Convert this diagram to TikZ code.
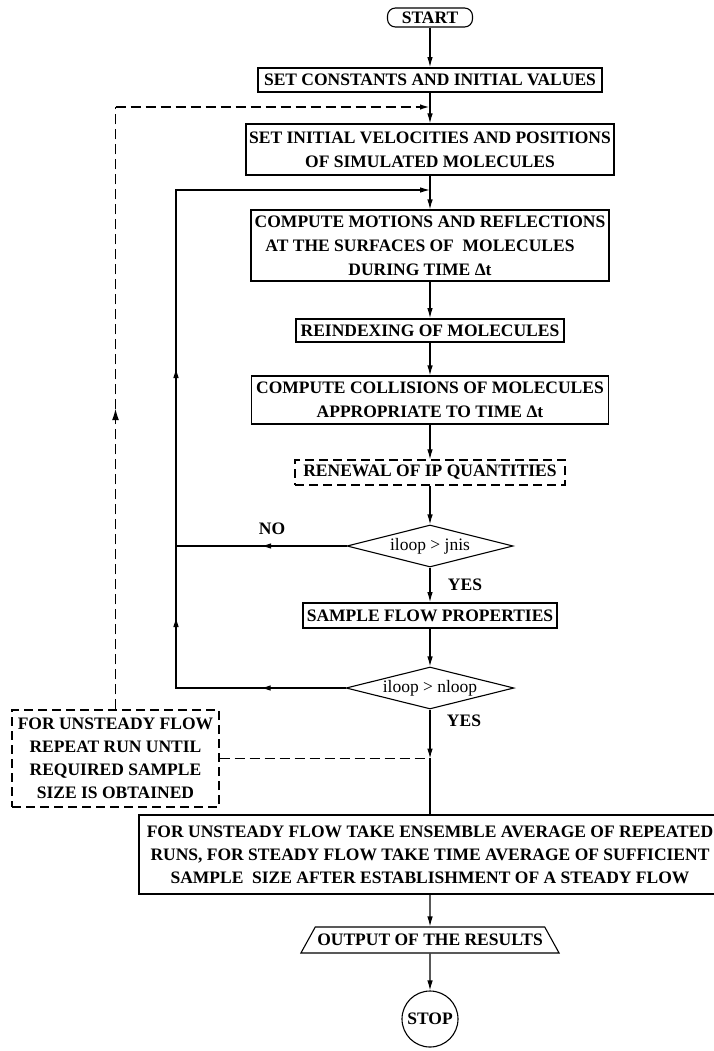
\documentclass[tikz,border=0pt]{standalone}
\usepackage{fontspec}
\setmainfont{Liberation Serif}
\usetikzlibrary{arrows.meta,shapes.geometric,decorations.markings}
\begin{document}
\begin{tikzpicture}[x=1pt,y=-1pt,
  every node/.style={font=\fontsize{17.5}{24}\selectfont\bfseries, inner sep=0pt, align=center},
  conn/.style={line width=1.1pt, -{Latex[length=10pt,width=5.5pt]}},
  plain/.style={line width=1.1pt, line cap=rect},
  procbox/.style={draw, line width=1.1pt, rectangle},
  dblbox/.style={draw, line width=1.7pt, rectangle},
  dashbox/.style={draw, line width=1.3pt, dash pattern=on 9pt off 5pt, rectangle},
  dashline/.style={line width=1.8pt, dash pattern=on 10pt off 5pt},
  decis/.style={diamond, draw, line width=1.1pt, aspect=4, inner sep=1pt, font=\fontsize{17.5}{24}\selectfont},
  midarrow/.style={postaction={decorate}, decoration={markings, mark=at position #1 with {\pgfsetdash{}{0pt}\arrow{Latex[length=10pt,width=5.5pt]}}}},
  bigmidarrow/.style={postaction={decorate}, decoration={markings, mark=at position #1 with {\pgfsetdash{}{0pt}\arrow{Latex[length=12pt,width=7pt]}}}}
]
\useasboundingbox (0,0) rectangle (714,1051);

% nodes
\node[draw, line width=1.1pt, rounded corners=8pt, minimum width=85pt, minimum height=19pt] (start) at (430,17.5) {START};
\node[dblbox, minimum width=344pt, minimum height=24pt] (setc) at (430,80) {SET CONSTANTS AND INITIAL VALUES};
\node[procbox, minimum width=368pt, minimum height=51pt] (setv) at (430,149.5) {SET INITIAL VELOCITIES AND POSITIONS\\OF SIMULATED MOLECULES};
\node[procbox, minimum width=358pt, minimum height=71pt] (motion) at (430,245.5) {COMPUTE MOTIONS AND REFLECTIONS\\AT THE SURFACES OF\ \ MOLECULES\kern20pt\\DURING TIME Δt\kern20pt};
\node[dblbox, minimum width=268pt, minimum height=23pt] (reidx) at (430,330.5) {REINDEXING OF MOLECULES};
\node[procbox, minimum width=357pt, minimum height=48pt] (coll) at (430,400) {COMPUTE COLLISIONS OF MOLECULES\\APPROPRIATE TO TIME Δt};
\node[dashbox, minimum width=270pt, minimum height=25pt] (renew) at (430,472.5) {RENEWAL OF IP QUANTITIES};
\node[decis, minimum width=166pt, minimum height=42pt] (d1) at (430,546) {iloop > jnis};
\node[dblbox, minimum width=254pt, minimum height=25pt] (sample) at (430,615.5) {SAMPLE FLOW PROPERTIES};
\node[decis, minimum width=163pt, minimum height=41pt] (d2) at (430,688) {iloop > nloop};
\node[dashbox, minimum width=207pt, minimum height=97pt, font=\fontsize{17.5}{23}\selectfont\bfseries] (note) at (115.5,758.5) {FOR UNSTEADY FLOW\\REPEAT RUN UNTIL\\REQUIRED SAMPLE\\SIZE IS OBTAINED};
\node[procbox, minimum width=582pt, minimum height=79pt, font=\fontsize{17.5}{23}\selectfont\bfseries] (big) at (430,854.5) {FOR UNSTEADY FLOW TAKE ENSEMBLE AVERAGE OF REPEATED\\RUNS, FOR STEADY FLOW TAKE TIME AVERAGE OF SUFFICIENT\\SAMPLE\ \ SIZE AFTER ESTABLISHMENT OF A STEADY FLOW};
\node[trapezium, draw, line width=1.1pt, trapezium left angle=54, trapezium right angle=54, trapezium stretches=true, minimum height=26pt, inner xsep=2pt, inner ysep=4pt] (out) at (430,940) {OUTPUT OF THE RESULTS};
\node[circle, draw, line width=1.1pt, minimum size=56pt] (stop) at (430,1019) {STOP};

% labels
\node (no) at (272,529) {NO};
\node (yes1) at (465,585) {YES};
\node (yes2) at (464,721) {YES};

% corner coordinates
\coordinate (Lt) at (176,190);
\coordinate (Lm) at (176,546);
\coordinate (Lb) at (176,688);
\coordinate (Jt) at (430,190);
\coordinate (Dt) at (115.5,107);
\coordinate (Dj) at (430,107);
\coordinate (Jb) at (430,758.5);

% main flow
\draw[conn] (start) -- (setc);
\draw[conn] (setc) -- (setv);
\draw[conn] (setv) -- (motion);
\draw[conn] (motion) -- (reidx);
\draw[conn] (reidx) -- (coll);
\draw[conn] (coll) -- (renew);
\draw[conn] (renew) -- (d1);
\draw[conn] (d1) -- (sample);
\draw[conn] (sample) -- (d2);
\draw[conn] (d2) -- (Jb);
\draw[plain] (Jb) -- (big);
\draw[conn] (big) -- (out);
\draw[conn] (out) -- (stop);

% loops
\draw[plain, midarrow=0.5] (d1.west) -- (Lm);
\draw[plain, midarrow=0.5] (Lm) -- (Lt);
\draw[conn, line cap=rect] (Lt) -- (Jt);
\draw[plain, midarrow=0.5] (d2.west) -- (Lb);
\draw[plain, midarrow=0.5] (Lb) -- (Lm);

% dashed repeat path
\draw[dashline, bigmidarrow=0.5] (note.north) -- (Dt);
\draw[dashline, -{Latex[length=10pt,width=5.5pt]}] (Dt) -- (Dj);
\draw[dashline] (note.east) -- (Jb);
\end{tikzpicture}
\end{document}
